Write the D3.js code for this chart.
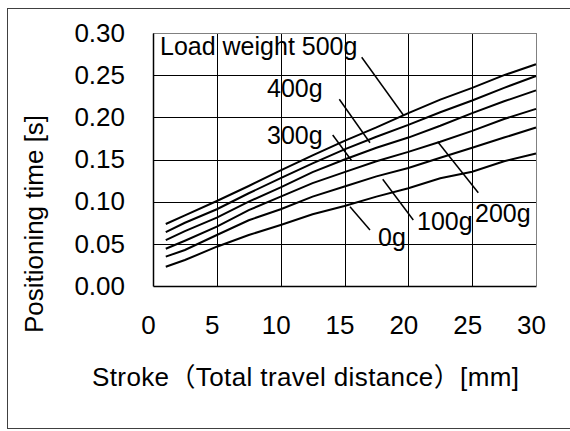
<!DOCTYPE html>
<html>
<head>
<meta charset="utf-8">
<script src="https://cdn.jsdelivr.net/npm/d3@7"></script>
<style>
  html, body { margin: 0; padding: 0; background: #fff; }
  svg { display: block; }
  text { font-family: "Liberation Sans", Arial, "Noto Sans CJK JP", sans-serif; fill: #000; }
</style>
</head>
<body>
<svg id="chart" width="570" height="431"></svg>
<script>
// ---- data ----
const strokes = [1, 2.5, 5, 7.5, 10, 12.5, 15, 17.5, 20, 22.5, 25, 27.5, 30];
const load500 = [0.0735, 0.0838, 0.1008, 0.1186, 0.137, 0.155, 0.172, 0.188, 0.205, 0.221, 0.235, 0.250, 0.263];
const load400 = [0.064, 0.075, 0.091, 0.110, 0.128, 0.1455, 0.162, 0.177, 0.191, 0.206, 0.220, 0.235, 0.249];
const load300 = [0.0545, 0.065, 0.081, 0.100, 0.117, 0.135, 0.150, 0.164, 0.176, 0.190, 0.205, 0.219, 0.232];
const load200 = [0.0442, 0.0537, 0.0703, 0.090, 0.1059, 0.122, 0.135, 0.148, 0.159, 0.171, 0.184, 0.198, 0.210];
const load100 = [0.0348, 0.0427, 0.0605, 0.078, 0.091, 0.106, 0.118, 0.130, 0.140, 0.152, 0.164, 0.176, 0.188];
const load0   = [0.0229, 0.0308, 0.0466, 0.0605, 0.0723, 0.085, 0.0949, 0.106, 0.116, 0.1277, 0.1355, 0.148, 0.157];
const seriesNames = ["Load weight 500g", "400g", "300g", "200g", "100g", "0g"];
const seriesValues = [load500, load400, load300, load200, load100, load0];
const xTicks = [0, 5, 10, 15, 20, 25, 30];
const yTicks = [0, 0.05, 0.10, 0.15, 0.20, 0.25, 0.30];
const xTitle = "Stroke\uFF08Total travel distance\uFF09[mm]";
const yTitle = "Positioning time [s]";

// ---- layout ----
const svg = d3.select("#chart");
const x = d3.scaleLinear().domain([0, 30]).range([153, 536]);
const y = d3.scaleLinear().domain([0, 0.30]).range([286, 33]);

// outer frame
svg.append("rect").attr("x", 7.5).attr("y", 8.5).attr("width", 590).attr("height", 420)
  .attr("fill", "none").attr("stroke", "#404040").attr("stroke-width", 1);

// grid
const grid = svg.append("g").attr("class", "grid");
xTicks.slice(1, -1).forEach(d => {
  const px = Math.round(x(d)) + 0.5;
  grid.append("line").attr("class", "vgrid")
    .attr("x1", px).attr("x2", px).attr("y1", y(0.30)).attr("y2", y(0))
    .attr("stroke", "#000").attr("stroke-width", 1);
});
yTicks.slice(1, -1).forEach(d => {
  const py = Math.round(y(d)) + 0.5;
  grid.append("line").attr("class", "hgrid")
    .attr("x1", x(0)).attr("x2", x(30)).attr("y1", py).attr("y2", py)
    .attr("stroke", "#000").attr("stroke-width", 1);
});

// plot frame (top/right grey)
svg.append("line").attr("x1", x(0)).attr("x2", x(30)).attr("y1", y(0.30) + 0.5).attr("y2", y(0.30) + 0.5)
  .attr("stroke", "#808080").attr("stroke-width", 1);
svg.append("line").attr("x1", x(30) + 0.5).attr("x2", x(30) + 0.5).attr("y1", y(0.30)).attr("y2", y(0))
  .attr("stroke", "#808080").attr("stroke-width", 1);

// axes (left and bottom black)
const yAxis = d3.axisLeft(y).tickValues(yTicks).tickFormat(d3.format(".2f")).tickSize(0).tickPadding(28);
const yAx = svg.append("g").attr("transform", `translate(${x(0)},0)`).call(yAxis);
yAx.select(".domain").attr("stroke", "#000").attr("stroke-width", 1.5);
yAx.selectAll("text").attr("font-size", 26).attr("font-family", "Liberation Sans, Arial, sans-serif");

const xAxis = d3.axisBottom(x).tickValues(xTicks).tickFormat(d3.format("d")).tickSize(0).tickPadding(30);
const xAx = svg.append("g").attr("transform", `translate(0,${y(0)})`).call(xAxis);
xAx.select(".domain").attr("stroke", "#000").attr("stroke-width", 1.5);
xAx.selectAll("text").attr("font-size", 26).attr("dx", -5).attr("font-family", "Liberation Sans, Arial, sans-serif");

// curves
const line = d3.line().x((d, i) => x(strokes[i])).y(d => y(d));
svg.append("g").attr("class", "curves").selectAll("path").data(seriesValues).join("path")
  .attr("d", d => line(d)).attr("fill", "none").attr("stroke", "#000").attr("stroke-width", 2);

// labels with leader lines
const labelPos = [
  {tx: 160, ty: 55, lx1: 361.7, ly1: 57.3, lx2: 403.3, ly2: 115},
  {tx: 267, ty: 96.7, lx1: 339.3, ly1: 99.3, lx2: 370, ly2: 142.7},
  {tx: 267, ty: 144, lx1: 332.7, ly1: 135, lx2: 351.7, ly2: 160.7},
  {tx: 475, ty: 221.7, lx1: 437.7, ly1: 141.7, lx2: 478.3, ly2: 192.7},
  {tx: 417, ty: 230, lx1: 382.7, ly1: 179.3, lx2: 413.3, ly2: 220},
  {tx: 378, ty: 246, lx1: 350, ly1: 206.7, lx2: 370, ly2: 230}
];
const lab = svg.append("g").attr("class", "labels");
seriesNames.forEach((name, i) => {
  const p = labelPos[i];
  lab.append("line").attr("x1", p.lx1).attr("y1", p.ly1).attr("x2", p.lx2).attr("y2", p.ly2)
    .attr("stroke", "#000").attr("stroke-width", 1.5);
  lab.append("text").attr("x", p.tx).attr("y", p.ty).attr("font-size", 25).text(name);
});

// titles
svg.append("text").attr("x", 305.5).attr("y", 386).attr("text-anchor", "middle")
  .attr("font-size", 26).attr("textLength", 427).attr("lengthAdjust", "spacing").text(xTitle);
svg.append("text").attr("transform", "translate(43,224) rotate(-90)").attr("text-anchor", "middle")
  .attr("font-size", 26).text(yTitle);
</script>
</body>
</html>
